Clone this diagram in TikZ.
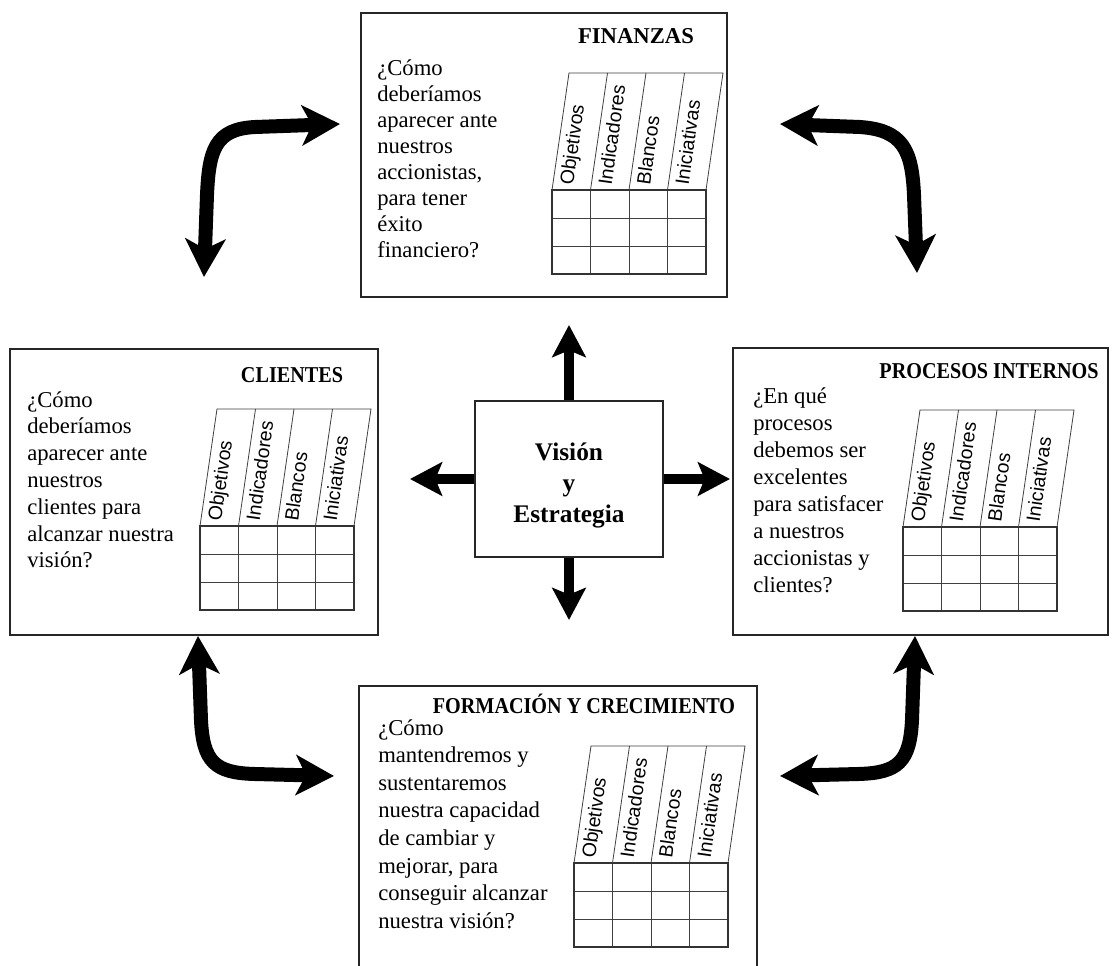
\documentclass[tikz,border=0pt]{standalone}
\usepackage{fontspec}
\setmainfont{Liberation Serif}
\newfontfamily\bodyfont{Liberation Serif}
\newfontfamily\titlefont[FakeStretch=0.89]{Liberation Serif}
\newfontfamily\hdrfont{Liberation Sans}
\usetikzlibrary{arrows.meta}

\tikzset{
  box/.style={draw=black!85, line width=1.1pt, inner sep=0pt, fill=white},
  tabout/.style={draw=black!80, line width=0.9pt},
  tabin/.style={draw=black!75, line width=0.6pt},
  hdr/.style={rotate=82, anchor=base west, inner sep=0pt, font=\hdrfont\fontsize{14.6}{16}\selectfont},
  title/.style={anchor=base, inner sep=0pt, font=\titlefont\bfseries\fontsize{17}{20}\selectfont},
  bodytxt/.style={anchor=base west, inner sep=0pt},
  carrow/.style={line width=7.5pt, -{Stealth[length=24pt,width=25pt,inset=5pt]}},
  bigarrow/.style={line width=10.5pt, line join=round,
    {Stealth[length=28.5pt,width=30pt,inset=7.5pt]}-{Stealth[length=28.5pt,width=30pt,inset=7.5pt]}}
}

\newcommand\bsctab[3]{%
 \begin{scope}[shift={(#2,#3)}]
  \draw[tabin] (0,0) -- (17,-117) -- (171,-117) -- (154,0);
  \draw[tabin] (38.5,0) -- (55.5,-117) (77,0) -- (94,-117) (115.5,0) -- (132.5,-117);
  \draw[tabin] (0,28) -- (154,28) (0,56) -- (154,56) (38.5,0) -- (38.5,84) (77,0) -- (77,84) (115.5,0) -- (115.5,84);
  \draw[tabout] (0,0) rectangle (154,84);
  \node[hdr] (#1-obj) at (21,-4) {Objetivos};
  \node[hdr] (#1-ind) at (59.5,-4) {Indicadores};
  \node[hdr] (#1-bla) at (98,-4) {Blancos};
  \node[hdr] (#1-ini) at (136.5,-4) {Iniciativas};
 \end{scope}}

\newcommand\qtext[5]{%
  \node[bodytxt] (#1) at (#2,#3) {\bodyfont\fontsize{17}{#4}\selectfont\parbox[t]{220pt}{\raggedright #5}};}

\begin{document}
\begin{tikzpicture}[x=0.75pt,y=-0.75pt]
\useasboundingbox (0,0) rectangle (1118,965);
\fill[white] (0,0) rectangle (1118,965);
\clip (0,0) rectangle (1118,965);

% boxes
\node[box, minimum width=274.5pt, minimum height=213pt] (fin) at (544,155) {};
\node[box, minimum width=276pt, minimum height=214.5pt] (cli) at (194,492) {};
\node[box, minimum width=281.25pt, minimum height=215.25pt] (pro) at (920.5,491.5) {};
\node[box, minimum width=141pt, minimum height=117pt] (vis) at (569,479) {};
\node[box, minimum width=298.5pt, minimum height=220.5pt] (for) at (558,833) {};

% titles
\node[anchor=base, inner sep=0pt, font=\bodyfont\bfseries\fontsize{17}{20}\selectfont] (fin-t) at (636,43) {FINANZAS};
\node[title] (cli-t) at (292,382) {CLIENTES};
\node[title] (pro-t) at (989,378) {PROCESOS INTERNOS};
\node[title] (for-t) at (584,713) {FORMACIÓN Y CRECIMIENTO};

% center text
\node[anchor=base, inner sep=0pt, font=\bfseries\fontsize{19}{23.25}\selectfont] (vis-t) at (569,460)
  {\parbox[t]{130pt}{\centering Visión\\y\\Estrategia}};

% questions
\qtext{fin-q}{377}{75}{19.6}{¿Cómo\\deberíamos\\aparecer ante\\nuestros\\accionistas,\\para tener\\éxito\\financiero?}
\qtext{cli-q}{27}{407}{20.1}{¿Cómo\\deberíamos\\aparecer ante\\nuestros\\clientes para\\alcanzar nuestra\\visión?}
\qtext{pro-q}{753}{403}{20.25}{¿En qué\\procesos\\debemos ser\\excelentes\\para satisfacer\\a nuestros\\accionistas y\\clientes?}
\qtext{for-q}{378}{735}{20.7}{¿Cómo\\mantendremos y\\sustentaremos\\nuestra capacidad\\de cambiar y\\mejorar, para\\conseguir alcanzar\\nuestra visión?}

% tables
\bsctab{fin}{552}{190}
\bsctab{cli}{200}{526}
\bsctab{pro}{903}{527}
\bsctab{for}{574}{863}

% straight arrows from center
\coordinate (vN) at (569,325);
\coordinate (vS) at (569,620);
\coordinate (vE) at (730,479);
\coordinate (vW) at (410,479);
\draw[carrow] (vis.north) -- (vN);
\draw[carrow] (vis.south) -- (vS);
\draw[carrow] (vis.east) -- (vE);
\draw[carrow] (vis.west) -- (vW);

% curved arrows
\coordinate (tlA) at (340,124);
\coordinate (tlB) at (204,277);
\draw[bigarrow] (tlA) -- (255,127) .. controls (215,129) and (209,150) .. (207,195) -- (tlB);
\coordinate (trA) at (780,124);
\coordinate (trB) at (917,273);
\draw[bigarrow] (trA) -- (860,127) .. controls (903,130) and (912,150) .. (914,195) -- (trB);
\coordinate (blA) at (198,636);
\coordinate (blB) at (334,776);
\draw[bigarrow] (blA) -- (201,720) .. controls (203,762) and (215,773) .. (255,774) -- (blB);
\coordinate (brA) at (915,636);
\coordinate (brB) at (780,776);
\draw[bigarrow] (brA) -- (912,720) .. controls (910,762) and (898,773) .. (858,774) -- (brB);
\end{tikzpicture}
\end{document}
